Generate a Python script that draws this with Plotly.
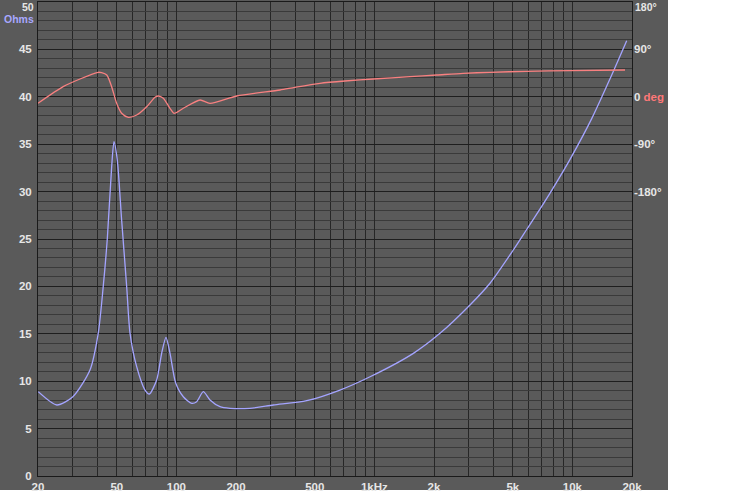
import math
import plotly.graph_objects as go

# ---- data ----
imp_freq = [20.07, 24.9, 30.0, 36.6, 40.3, 42.7, 44.8, 47.1, 48.4, 50.3, 52.9, 56.1, 58.3,
            63.0, 69.4, 73.0, 79.5, 84.3, 88.6, 92.8, 99.2, 108.4, 119.5, 126.6, 136.7,
            147.8, 166, 186.5, 235, 309, 455, 670, 951, 1573, 2144, 3040, 3836, 5030,
            5878, 7130, 8332, 9728, 12518, 15488, 18804]
imp_ohms = [8.89, 7.49, 8.36, 11.18, 15.08, 19.97, 25.1, 32.6, 35.26, 33.3, 27.0, 19.97, 15.08,
            11.53, 9.07, 8.65, 10.13, 12.97, 14.63, 12.97, 9.81, 8.36, 7.67, 7.84, 8.89,
            8.02, 7.31, 7.14, 7.14, 7.49, 7.94, 9.07, 10.47, 12.94, 15.05, 18.04, 20.33, 23.84,
            26.0, 28.7, 31.0, 33.4, 37.7, 41.9, 45.92]

ph_freq = [20, 26.8, 32.6, 40.3, 41.9, 44.5, 47.1, 49.9, 52.9, 57.2, 63.0, 70.8, 78.0, 81.0,
           85.9, 92.8, 97.3, 108.4, 131.6, 147.8, 201.6, 333.7, 397, 531, 710, 987, 1513,
           2064, 2812, 3836, 5878, 9728, 18436]
ph_deg = [-12.3, 19.2, 33.8, 46.5, 45.8, 41.4, 19.2, -12.3, -31.3, -38.9, -34.6, -18.8, -1.0, 1.5,
          -2.9, -21.8, -31.3, -21.8, -6.1, -12.3, 1.5, 12.9, 18.0, 25.6, 30.0, 33.8, 38.2,
          41.4, 44.6, 46.5, 48.4, 49.6, 50.9]

x_tickvals = [20, 50, 100, 200, 500, 1000, 2000, 5000, 10000, 20000]
x_ticktext = ["20", "50", "100", "200", "500", "1kHz", "2k", "5k", "10k", "20k"]
x_minor = [30, 40, 60, 70, 80, 90, 300, 400, 600, 700, 800, 900,
           3000, 4000, 6000, 7000, 8000, 9000]
x_decades = [100, 1000, 10000]
y_tickvals = [0, 5, 10, 15, 20, 25, 30, 35, 40, 45]
y_top_label = "50"
ph_tickvals = [-180, -90, 0, 90]
ph_ticktext = ["-180°", "-90°", "0 <span style='color:#ff7878'>deg</span>", "90°"]
ph_top_label = "180°"

# ---- style ----
PANEL = "#5a5a5a"
PLOT = "#5b5b5b"
LABEL = "#e6e6e6"
FONT = "Liberation Sans"
tickfont = dict(family=FONT, size=11.5, color=LABEL, weight="bold")
smallfont = dict(family=FONT, size=10.5, color=LABEL, weight="bold")

W, H = 750, 493
L, R, T, B = 38, 118, 2, 17
pw, ph = W - L - R, H - T - B

fig = go.Figure()
fig.add_trace(go.Scatter(x=imp_freq, y=imp_ohms, mode="lines",
                         line=dict(color="#a4a4ff", width=1.3, shape="spline", smoothing=0.7),
                         xaxis="x", yaxis="y", showlegend=False, hoverinfo="skip"))
fig.add_trace(go.Scatter(x=ph_freq, y=ph_deg, mode="lines",
                         line=dict(color="#f88080", width=1.3, shape="spline", smoothing=0.7),
                         xaxis="x", yaxis="y2", showlegend=False, hoverinfo="skip"))

xr = [math.log10(20), math.log10(20000)]


def py(pix):
    """pixel row -> paper y"""
    return (H - B - pix) / ph


fig.update_layout(
    width=W, height=H,
    margin=dict(l=L, r=R, t=T, b=B, pad=0),
    paper_bgcolor="white",
    plot_bgcolor=PLOT,
    xaxis=dict(type="log", range=xr, tickvals=x_tickvals, ticktext=x_ticktext,
               showgrid=True, gridcolor="#262626", gridwidth=1,
               minor=dict(tickvals=x_minor, showgrid=True, gridcolor="#262626", gridwidth=1, ticks=""),
               ticks="", tickfont=tickfont, showline=True, linecolor="#1a1a1a", linewidth=1,
               mirror=True, zeroline=False, fixedrange=True, automargin=False),
    xaxis2=dict(type="log", range=xr, overlaying="x", tickvals=x_decades, showticklabels=False,
                showgrid=True, gridcolor="#111111", gridwidth=2, ticks="", zeroline=False,
                showline=False),
    yaxis=dict(range=[0, 50], tickvals=y_tickvals, showgrid=True, gridcolor="#1e1e1e", gridwidth=1,
               minor=dict(dtick=1, showgrid=True, gridcolor="#3a3a3a", gridwidth=1, ticks=""),
               ticks="", tickfont=tickfont, zeroline=False, showline=True, linecolor="#1a1a1a",
               linewidth=1, mirror=True, ticklabelstandoff=3, automargin=False),
    yaxis2=dict(range=[-720, 180], overlaying="y", side="right", tickvals=ph_tickvals,
                ticktext=ph_ticktext, showgrid=False, ticks="", tickfont=tickfont,
                zeroline=False, showline=False, ticklabelstandoff=1, automargin=False),
    shapes=[dict(type="rect", xref="paper", yref="paper", layer="below",
                 x0=-L / pw, x1=(668 - L) / pw, y0=py(490), y1=py(0),
                 fillcolor=PANEL, line=dict(width=0))],
    annotations=[
        dict(text=y_top_label, xref="paper", yref="paper", x=-3 / pw, y=py(0.5),
             xanchor="right", yanchor="top", showarrow=False, font=smallfont, borderpad=0),
        dict(text="Ohms", xref="paper", yref="paper", x=-3 / pw, y=py(12),
             xanchor="right", yanchor="top", showarrow=False, borderpad=0,
             font=dict(family=FONT, size=10.5, color="#a8a8ff", weight="bold")),
        dict(text=ph_top_label, xref="paper", yref="paper", x=1 + 2 / pw, y=py(0.5),
             xanchor="left", yanchor="top", showarrow=False, font=smallfont, borderpad=0),
    ],
)

fig.write_html("out.html", config={"displayModeBar": False},
               post_script="document.body.style.margin='0';document.body.style.padding='0';")
